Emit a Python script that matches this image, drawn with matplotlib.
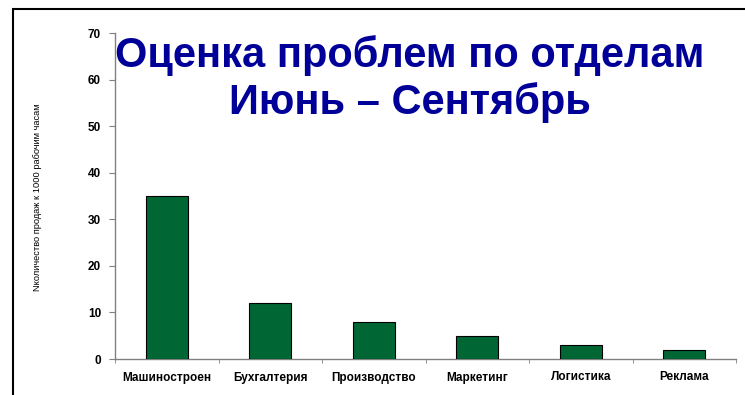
import matplotlib
matplotlib.use('Agg')
import matplotlib.pyplot as plt
import numpy as np

plt.rcParams['font.family'] = ['Liberation Sans', 'DejaVu Sans']

departments = ['Машиностроен', 'Бухгалтерия', 'Производство', 'Маркетинг', 'Логистика', 'Реклама']
values = [35, 12, 8, 5, 3, 2]
y_ticks = [0, 10, 20, 30, 40, 50, 60, 70]

fig = plt.figure(figsize=(7.45, 3.95), dpi=100, facecolor='white')

# frame around the chart, only left/top edges fall inside the image
fig.patches.append(plt.Rectangle((13 / 745, -0.1), 1.2, (395 - 9) / 395 + 0.1,
                                 transform=fig.transFigure, fill=False,
                                 edgecolor='black', linewidth=1.5))

ax = fig.add_axes([115 / 745, 36 / 395, 621 / 745, 326 / 395])
x = np.arange(len(departments))
ax.bar(x, values, width=0.41, color='#006633', edgecolor='black', linewidth=0.8, zorder=3)

ax.set_xlim(-0.5, len(departments) - 0.5)
ax.set_ylim(0, 70)
ax.set_yticks(y_ticks)
ax.set_yticklabels([str(v) for v in y_ticks], fontsize=8.5, fontweight='bold')
ax.set_xticks(x)
ax.set_xticklabels(departments, fontsize=8.5, fontweight='bold')
ax.set_xticks(np.arange(len(departments) + 1) - 0.5, minor=True)
ax.tick_params(axis='x', which='major', length=0, pad=9)
ax.tick_params(axis='x', which='minor', length=3, color='#808080', direction='out')
ax.tick_params(axis='y', length=4, color='#808080', pad=6)

for side in ['top', 'right']:
    ax.spines[side].set_visible(False)
for side in ['left', 'bottom']:
    ax.spines[side].set_color('#808080')
    ax.spines[side].set_linewidth(1.0)

fig.text(38 / 745, 1 - 197 / 395, 'Nколичество продаж к 1000 рабочим часам',
         rotation=90, fontsize=6.7, ha='center', va='center')

fig.text(410 / 745, 1 - 56 / 395, 'Оценка проблем по отделам', color='#000099',
         fontsize=30, fontweight='bold', ha='center', va='center')
fig.text(410 / 745, 1 - 103 / 395, 'Июнь – Сентябрь', color='#000099',
         fontsize=30, fontweight='bold', ha='center', va='center')

fig.savefig('out.png', dpi=100, facecolor='white')
